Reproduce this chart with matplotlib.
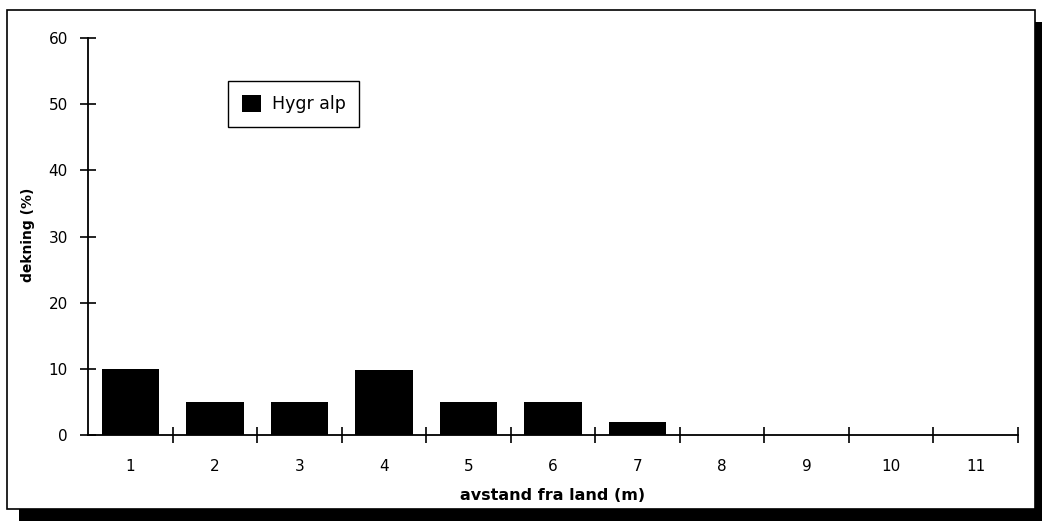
import numpy as np
import matplotlib.pyplot as plt
from matplotlib.patches import Rectangle
from matplotlib.ticker import FixedLocator

# distance from shore (m) and cover (%)
distance = ['1', '2', '3', '4', '5', '6', '7', '8', '9', '10', '11']
cover = [10, 5, 5, 9.8, 5, 5, 2, 0, 0, 0, 0]
series_name = 'Hygr alp'

plt.rcParams['font.family'] = ['DejaVu Sans']

fig = plt.figure(figsize=(10.42, 5.23), dpi=100)

# drop shadow + frame around the whole chart
fig.patches.append(Rectangle((0.0182, 0.004), 0.9866, 0.954, transform=fig.transFigure,
                             facecolor='black', edgecolor='none', zorder=0))
fig.patches.append(Rectangle((0.0067, 0.0268), 0.9866, 0.954, transform=fig.transFigure,
                             facecolor='white', edgecolor='black', linewidth=1.2, zorder=1))

ax = fig.add_axes([0.0845, 0.168, 0.8925, 0.759])
ax.set_zorder(2)
ax.patch.set_alpha(0)

x = np.arange(len(distance))
ax.bar(x, cover, width=0.68, color='black', label=series_name)

ax.set_xlim(-0.5, len(distance) - 0.5)
ax.set_ylim(0, 60)
ax.set_yticks(range(0, 61, 10))
ax.set_xticks(x)
ax.set_xticklabels(distance)
ax.xaxis.set_minor_locator(FixedLocator(np.arange(0.5, len(distance), 1.0)))

for s in ['top', 'right']:
    ax.spines[s].set_visible(False)
ax.spines['left'].set_linewidth(1.3)
ax.spines['bottom'].set_linewidth(1.3)

ax.tick_params(axis='y', direction='inout', length=11, width=1.2, labelsize=11, pad=9)
ax.tick_params(axis='x', which='major', length=0, labelsize=11, pad=17)
ax.tick_params(axis='x', which='minor', direction='inout', length=11, width=1.2)

ax.set_xlabel('avstand fra land (m)', fontsize=11.5, fontweight='bold')
ax.xaxis.set_label_coords(0.5, -0.133)
ax.set_ylabel('dekning (%)', fontsize=10, fontweight='bold')
ax.yaxis.set_label_coords(-0.057, 0.505)

leg = ax.legend(loc='upper left', bbox_to_anchor=(0.219, 0.845), bbox_transform=fig.transFigure,
                fancybox=False, edgecolor='black', fontsize=12.5, handlelength=1.1,
                handleheight=1.1, borderpad=0.8, handletextpad=0.6, borderaxespad=0,
                framealpha=1)
leg.get_frame().set_linewidth(1.0)

fig.savefig('out.png', dpi=100)
